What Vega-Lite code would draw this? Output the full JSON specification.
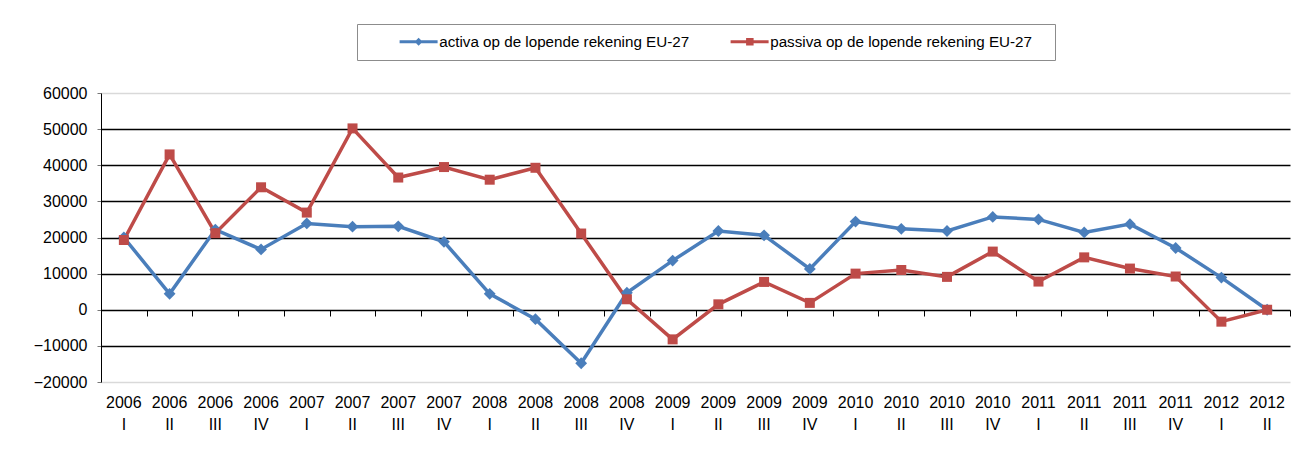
{
  "$schema": "https://vega.github.io/schema/vega-lite/v6.json",
  "width": 1189,
  "height": 289,
  "autosize": {"type": "none"},
  "padding": {"left": 101, "top": 93, "right": 8, "bottom": 82},
  "background": "white",
  "config": {
    "font": "Liberation Sans",
    "view": {"stroke": null}
  },
  "data": {
    "values": [
      {"q": "2006 I", "series": "activa op de lopende rekening EU-27", "value": 20000},
      {"q": "2006 II", "series": "activa op de lopende rekening EU-27", "value": 4400},
      {"q": "2006 III", "series": "activa op de lopende rekening EU-27", "value": 22200},
      {"q": "2006 IV", "series": "activa op de lopende rekening EU-27", "value": 16700},
      {"q": "2007 I", "series": "activa op de lopende rekening EU-27", "value": 23900},
      {"q": "2007 II", "series": "activa op de lopende rekening EU-27", "value": 23000},
      {"q": "2007 III", "series": "activa op de lopende rekening EU-27", "value": 23100},
      {"q": "2007 IV", "series": "activa op de lopende rekening EU-27", "value": 18800},
      {"q": "2008 I", "series": "activa op de lopende rekening EU-27", "value": 4400},
      {"q": "2008 II", "series": "activa op de lopende rekening EU-27", "value": -2600},
      {"q": "2008 III", "series": "activa op de lopende rekening EU-27", "value": -14800},
      {"q": "2008 IV", "series": "activa op de lopende rekening EU-27", "value": 4700},
      {"q": "2009 I", "series": "activa op de lopende rekening EU-27", "value": 13600},
      {"q": "2009 II", "series": "activa op de lopende rekening EU-27", "value": 21800},
      {"q": "2009 III", "series": "activa op de lopende rekening EU-27", "value": 20600},
      {"q": "2009 IV", "series": "activa op de lopende rekening EU-27", "value": 11300},
      {"q": "2010 I", "series": "activa op de lopende rekening EU-27", "value": 24400},
      {"q": "2010 II", "series": "activa op de lopende rekening EU-27", "value": 22400},
      {"q": "2010 III", "series": "activa op de lopende rekening EU-27", "value": 21800},
      {"q": "2010 IV", "series": "activa op de lopende rekening EU-27", "value": 25700},
      {"q": "2011 I", "series": "activa op de lopende rekening EU-27", "value": 25000},
      {"q": "2011 II", "series": "activa op de lopende rekening EU-27", "value": 21400},
      {"q": "2011 III", "series": "activa op de lopende rekening EU-27", "value": 23700},
      {"q": "2011 IV", "series": "activa op de lopende rekening EU-27", "value": 17100},
      {"q": "2012 I", "series": "activa op de lopende rekening EU-27", "value": 8900},
      {"q": "2012 II", "series": "activa op de lopende rekening EU-27", "value": 0},
      {"q": "2006 I", "series": "passiva op de lopende rekening EU-27", "value": 19300},
      {"q": "2006 II", "series": "passiva op de lopende rekening EU-27", "value": 43000},
      {"q": "2006 III", "series": "passiva op de lopende rekening EU-27", "value": 21200},
      {"q": "2006 IV", "series": "passiva op de lopende rekening EU-27", "value": 33900},
      {"q": "2007 I", "series": "passiva op de lopende rekening EU-27", "value": 26900},
      {"q": "2007 II", "series": "passiva op de lopende rekening EU-27", "value": 50200},
      {"q": "2007 III", "series": "passiva op de lopende rekening EU-27", "value": 36600},
      {"q": "2007 IV", "series": "passiva op de lopende rekening EU-27", "value": 39500},
      {"q": "2008 I", "series": "passiva op de lopende rekening EU-27", "value": 36000},
      {"q": "2008 II", "series": "passiva op de lopende rekening EU-27", "value": 39300},
      {"q": "2008 III", "series": "passiva op de lopende rekening EU-27", "value": 21100},
      {"q": "2008 IV", "series": "passiva op de lopende rekening EU-27", "value": 2900},
      {"q": "2009 I", "series": "passiva op de lopende rekening EU-27", "value": -8200},
      {"q": "2009 II", "series": "passiva op de lopende rekening EU-27", "value": 1500},
      {"q": "2009 III", "series": "passiva op de lopende rekening EU-27", "value": 7700},
      {"q": "2009 IV", "series": "passiva op de lopende rekening EU-27", "value": 1900},
      {"q": "2010 I", "series": "passiva op de lopende rekening EU-27", "value": 10000},
      {"q": "2010 II", "series": "passiva op de lopende rekening EU-27", "value": 11000},
      {"q": "2010 III", "series": "passiva op de lopende rekening EU-27", "value": 9100},
      {"q": "2010 IV", "series": "passiva op de lopende rekening EU-27", "value": 16100},
      {"q": "2011 I", "series": "passiva op de lopende rekening EU-27", "value": 7800},
      {"q": "2011 II", "series": "passiva op de lopende rekening EU-27", "value": 14500},
      {"q": "2011 III", "series": "passiva op de lopende rekening EU-27", "value": 11400},
      {"q": "2011 IV", "series": "passiva op de lopende rekening EU-27", "value": 9200},
      {"q": "2012 I", "series": "passiva op de lopende rekening EU-27", "value": -3300},
      {"q": "2012 II", "series": "passiva op de lopende rekening EU-27", "value": 0}
    ]
  },
  "encoding": {
    "y": {
      "field": "value",
      "type": "quantitative",
      "scale": {"domain": [-20000, 60000], "nice": false, "zero": false},
      "axis": {
        "title": null,
        "values": [-20000, -10000, 0, 10000, 20000, 30000, 40000, 50000, 60000],
        "format": "d",
        "labelFontSize": 16,
        "labelColor": "black",
        "labelPadding": 10,
        "tickSize": 4,
        "tickColor": "#777777",
        "domain": true,
        "domainColor": "black",
        "domainWidth": 1,
        "grid": true,
        "gridColor": {
          "condition": {"test": "datum.value == 60000 || datum.value == -20000", "value": "#d9d9d9"},
          "value": "black"
        },
        "gridWidth": 1.6
      }
    },
    "color": {
      "field": "series",
      "type": "nominal",
      "scale": {"range": ["#4A7EBB", "#BE4B48"]},
      "legend": {
        "title": ".",
        "titleOrient": "right",
        "titleColor": "white",
        "titleFontSize": 8,
        "titlePadding": 10,
        "orient": "none",
        "legendX": 256,
        "legendY": -69,
        "direction": "horizontal",
        "columns": 2,
        "columnPadding": 8,
        "padding": 10,
        "strokeColor": "#8c8c8c",
        "fillColor": "white",
        "symbolSize": 100,
        "labelOffset": 57,
        "labelFontSize": 15.2,
        "labelColor": "black",
        "labelLimit": 0,
        "encode": {
          "symbols": {
            "update": {
              "shape": {"signal": "datum.value == 'activa op de lopende rekening EU-27' ? 'M5,-0.3H12.6V0.3H5Z M8.8,-0.8L9.6,0L8.8,0.8L8,0Z' : 'M5,-0.3H12.6V0.3H5Z M8.1,-0.75H9.6V0.75H8.1Z'"},
              "fill": {"signal": "datum.value == 'activa op de lopende rekening EU-27' ? '#4A7EBB' : '#BE4B48'"},
              "stroke": {"value": "transparent"},
              "strokeWidth": {"value": 0},
              "opacity": {"value": 1},
              "fillOpacity": {"value": 1}
            }
          }
        }
      }
    }
  },
  "layer": [
    {
      "mark": {"type": "line", "strokeWidth": 3.5},
      "encoding": {
        "x": {
          "field": "q",
          "type": "ordinal",
          "sort": null,
          "axis": {
            "orient": "bottom",
            "title": null,
            "labelAngle": 0,
            "labelExpr": "split(datum.label, ' ')",
            "labelFontSize": 16,
            "labelColor": "black",
            "labelLineHeight": 22,
            "labelPadding": 12,
            "ticks": false,
            "domain": false,
            "grid": false
          }
        }
      }
    },
    {
      "mark": {"type": "point", "filled": true, "opacity": 1},
      "encoding": {
        "x": {
          "field": "q",
          "type": "ordinal",
          "sort": null,
          "axis": {
            "orient": "bottom",
            "offset": -72,
            "title": null,
            "labels": false,
            "domain": false,
            "ticks": true,
            "tickBand": "extent",
            "tickSize": 6,
            "tickColor": "black",
            "grid": false
          }
        },
        "shape": {
          "field": "series",
          "type": "nominal",
          "scale": {"range": ["diamond", "square"]},
          "legend": null
        },
        "size": {
          "field": "series",
          "type": "nominal",
          "scale": {"range": [140, 100]},
          "legend": null
        }
      }
    }
  ],
  "resolve": {"axis": {"x": "independent"}}
}
